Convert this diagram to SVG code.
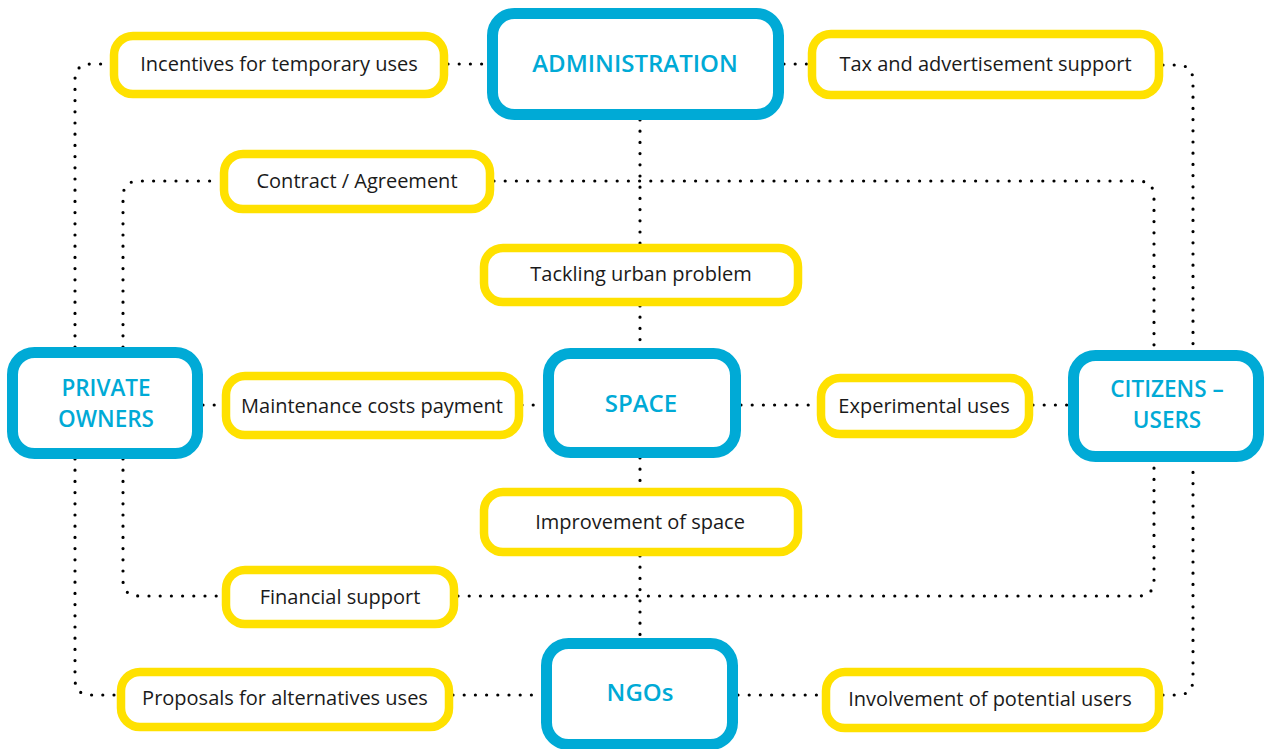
<svg xmlns="http://www.w3.org/2000/svg" width="1265" height="749" viewBox="0 0 1265 749">
<style>
.bg{fill:#ffffff}
.conn path{fill:none;stroke:#000;stroke-width:3.2;stroke-linecap:round;stroke-dasharray:0 11.2}
.main rect{fill:#fff;stroke:#00aad6;stroke-width:11}
.main text{font-family:"Open Sans","Noto Sans",sans-serif;font-weight:600;font-size:24px;fill:#00aad6;text-anchor:middle}
.main text.two{font-size:22.5px}
.lab rect{fill:#fff;stroke:#ffe100;stroke-width:8.5}
.lab text{font-family:"Open Sans","Noto Sans",sans-serif;font-size:20px;fill:#1a1a1a;text-anchor:middle}
</style>
<rect class="bg" x="0" y="0" width="1265" height="749"/>
<g id="connectors" class="conn">
<path d="M75 347 L75 80 Q75 64 91 64 L110 64"/>
<path d="M448 64 L487 64"/>
<path d="M784 64 L808 64"/>
<path d="M1163 65 L1177 65 Q1193 65 1193 81 L1193 350"/>
<path d="M640 120 L640 244"/>
<path d="M640 306 L640 348"/>
<path d="M123 347 L123 197 Q123 181 139 181 L220 181"/>
<path d="M494 181 L1138 181 Q1154 181 1154 197 L1154 350"/>
<path d="M203 405 L222 405"/>
<path d="M522 405 L543 405"/>
<path d="M741 405 L817 405"/>
<path d="M1033 405 L1068 405"/>
<path d="M640 458 L640 488"/>
<path d="M640 556 L640 638"/>
<path d="M123 459 L123 580 Q123 596 139 596 L222 596"/>
<path d="M458 596 L1138 596 Q1154 596 1154 580 L1154 462"/>
<path d="M75 459 L75 679 Q75 695 91 695 L117 695"/>
<path d="M453 695 L541 695"/>
<path d="M738 695 L822 695"/>
<path d="M1163 695 L1177 695 Q1193 695 1193 679 L1193 462"/>
</g>
<g id="administration" class="main"><rect x="492.5" y="13.5" width="286" height="101" rx="22"/><text x="635" y="72">ADMINISTRATION</text></g>
<g id="private-owners" class="main"><rect x="12.5" y="352.5" width="185" height="101" rx="22"/><text class="two" x="106" y="396">PRIVATE</text><text class="two" x="106" y="427">OWNERS</text></g>
<g id="space" class="main"><rect x="548.5" y="353.5" width="187" height="99" rx="22"/><text x="641" y="412">SPACE</text></g>
<g id="citizens-users" class="main"><rect x="1073.5" y="355.5" width="185" height="101" rx="22"/><text class="two" x="1167" y="397">CITIZENS –</text><text class="two" x="1167" y="428">USERS</text></g>
<g id="ngos" class="main"><rect x="546.5" y="643.5" width="186" height="101" rx="22"/><text x="640" y="701">NGOs</text></g>
<g id="incentives" class="lab"><rect x="114" y="36" width="330" height="58" rx="19"/><text x="279" y="71">Incentives for temporary uses</text></g>
<g id="tax" class="lab"><rect x="812" y="34" width="347" height="61" rx="19"/><text x="985.5" y="71">Tax and advertisement support</text></g>
<g id="contract" class="lab"><rect x="224" y="154" width="266" height="55" rx="19"/><text x="357" y="188">Contract / Agreement</text></g>
<g id="tackling" class="lab"><rect x="484" y="248" width="314" height="54" rx="19"/><text x="641" y="281">Tackling urban problem</text></g>
<g id="maintenance" class="lab"><rect x="226" y="376" width="293" height="59" rx="19"/><text x="372" y="413">Maintenance costs payment</text></g>
<g id="experimental" class="lab"><rect x="821" y="378" width="208" height="56" rx="19"/><text x="924" y="413">Experimental uses</text></g>
<g id="improvement" class="lab"><rect x="484" y="492" width="314" height="60" rx="19"/><text x="640" y="529">Improvement of space</text></g>
<g id="financial" class="lab"><rect x="226" y="570" width="228" height="54" rx="19"/><text x="340" y="604">Financial support</text></g>
<g id="proposals" class="lab"><rect x="121" y="672" width="328" height="55" rx="19"/><text x="285" y="705">Proposals for alternatives uses</text></g>
<g id="involvement" class="lab"><rect x="826" y="672" width="333" height="56" rx="19"/><text x="990" y="706">Involvement of potential users</text></g>
</svg>
